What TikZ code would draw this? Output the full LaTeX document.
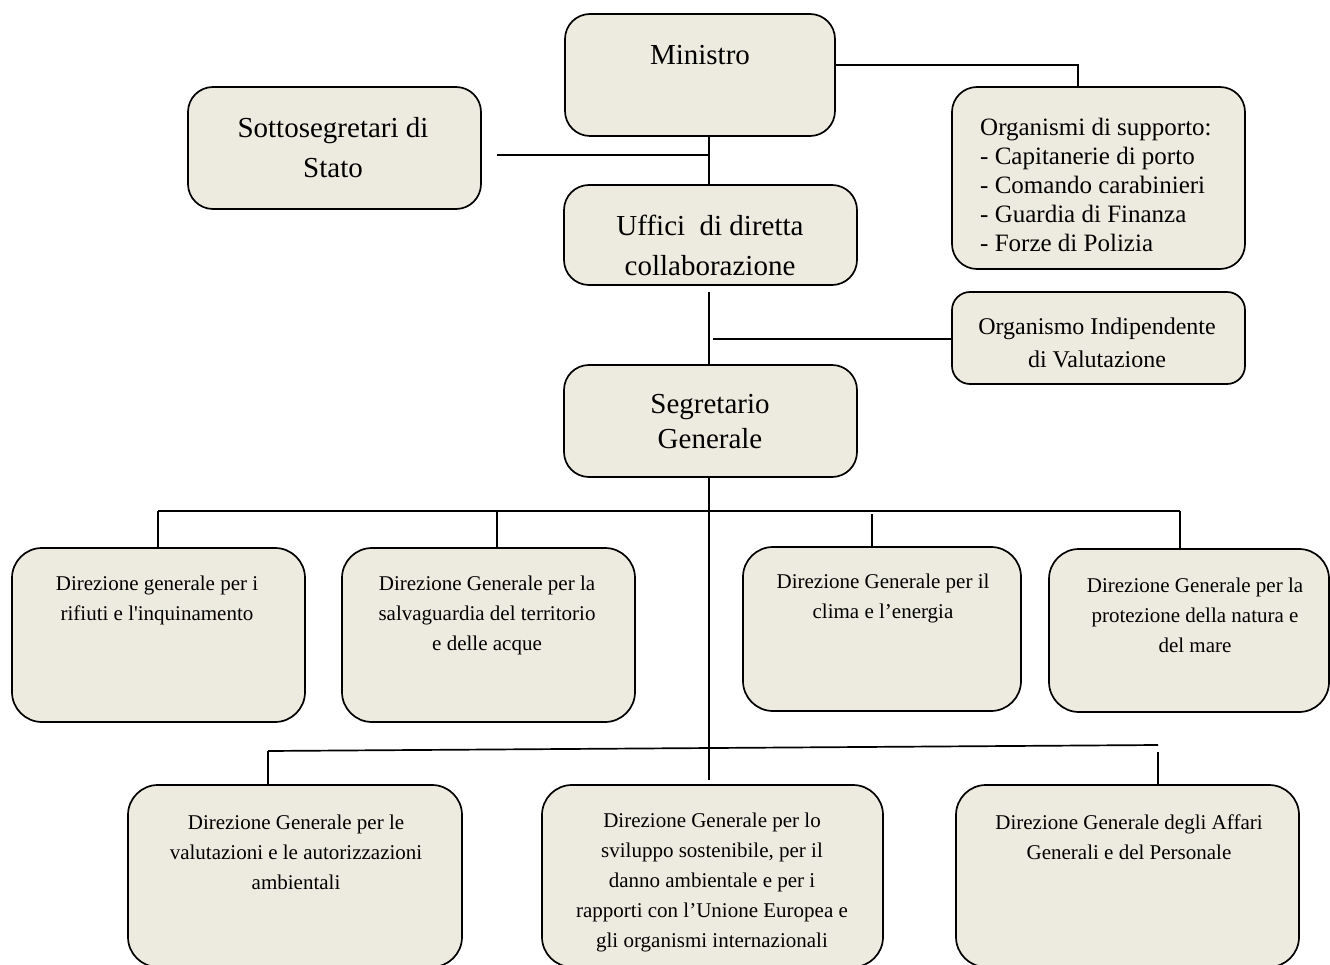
\documentclass[tikz,border=0pt]{standalone}
\usepackage{fontspec}
\setmainfont{Liberation Serif}
\definecolor{boxfill}{HTML}{EDEBE0}
\begin{document}
\begin{tikzpicture}[x=1pt,y=-1pt,
  box/.style={draw=black, line width=1.7pt, fill=boxfill, rounded corners=25pt, rectangle, inner sep=0pt},
  conn/.style={draw=black, line width=1.7pt},
  bigtxt/.style={font=\fontsize{29}{40}\selectfont, align=center, inner sep=0pt},
  medtxt/.style={font=\fontsize{25}{29}\selectfont, align=left, inner sep=0pt},
  oivtxt/.style={font=\fontsize{24}{33}\selectfont, align=center, inner sep=0pt},
  smalltxt/.style={font=\fontsize{21}{30}\selectfont, align=center, inner sep=0pt}]
\useasboundingbox (0,0) rectangle (1330,965);
\clip (0,0) rectangle (1330,965);

% boxes
\node[box, minimum width=270pt, minimum height=122pt] (min) at (700,75) {};
\node[box, minimum width=293pt, minimum height=122pt] (sot) at (334.5,148) {};
\node[box, minimum width=293pt, minimum height=100pt] (uff) at (710.5,235) {};
\node[box, minimum width=293pt, minimum height=182pt] (org) at (1098.5,178) {};
\node[box, minimum width=293pt, minimum height=92pt, rounded corners=18pt] (oiv) at (1098.5,338) {};
\node[box, minimum width=293pt, minimum height=112pt] (seg) at (710.5,421) {};
\node[box, minimum width=293pt, minimum height=174pt, rounded corners=30pt] (d1) at (158.5,635) {};
\node[box, minimum width=293pt, minimum height=174pt, rounded corners=30pt] (d2) at (488.5,635) {};
\node[box, minimum width=278pt, minimum height=164pt, rounded corners=30pt] (d3) at (882,629) {};
\node[box, minimum width=280pt, minimum height=163pt, rounded corners=30pt] (d4) at (1189,630.5) {};
\node[box, minimum width=334pt, minimum height=182pt, rounded corners=30pt] (d5) at (295,876) {};
\node[box, minimum width=341pt, minimum height=182pt, rounded corners=30pt] (d6) at (712.5,876) {};
\node[box, minimum width=343pt, minimum height=182pt, rounded corners=30pt] (d7) at (1127.5,876) {};

% texts
\node[bigtxt] (tmin) at (700,55) {Ministro};
\node[bigtxt] (tsot) at (333,148) {Sottosegretari di\\Stato};
\node[bigtxt] (tuff) at (710,245) {Uffici~~di diretta\\collaborazione};
\node[medtxt, anchor=west] (torg) at (980,185) {Organismi di supporto:\\- Capitanerie di porto\\- Comando carabinieri\\- Guardia di Finanza\\- Forze di Polizia};
\node[oivtxt] (toiv) at (1097,343) {Organismo Indipendente\\di Valutazione};
\node[bigtxt, font=\fontsize{29}{35}\selectfont] (tseg) at (710,422) {Segretario\\Generale};
\node[smalltxt] (td1) at (157,600) {Direzione generale per i\\rifiuti e l\textquotesingle inquinamento};
\node[smalltxt] (td2) at (487,615) {Direzione Generale per la\\salvaguardia del territorio\\e delle acque};
\node[smalltxt] (td3) at (883,598) {Direzione Generale per il\\clima e l’energia};
\node[smalltxt] (td4) at (1195,615) {Direzione Generale per la\\protezione della natura e\\del mare};
\node[smalltxt] (td5) at (296,852) {Direzione Generale per le\\valutazioni e le autorizzazioni\\ambientali};
\node[smalltxt] (td6) at (712,882) {Direzione Generale per lo\\sviluppo sostenibile, per il\\danno ambientale e per i\\rapporti con l’Unione Europea e\\gli organismi internazionali};
\node[smalltxt] (td7) at (1129,837) {Direzione~Generale degli Affari\\Generali e del Personale};

% junction coordinates
\coordinate (j1) at (709,155);
\coordinate (sotend) at (497,155);
\coordinate (j2) at (1078,65);
\coordinate (j3) at (709,292);
\coordinate (oivend) at (713,339);
\coordinate (segend) at (709,780);
\coordinate (b1l) at (158,511);
\coordinate (b1r) at (1180,511);
\coordinate (b1a) at (497,511);
\coordinate (b1b) at (872,514);
\coordinate (b2l) at (268,751);
\coordinate (b2r) at (1158,745);
\coordinate (b2rd) at (1158,752);

% connectors
\draw[conn] (j1 |- min.south) -- (j1 |- uff.north);
\draw[conn] (sotend) -- (j1);
\draw[conn] (min.east |- j2) -- (j2) -- (j2 |- org.north);
\draw[conn] (j3) -- (j3 |- seg.north);
\draw[conn] (oivend) -- (oiv.west |- oivend);
\draw[conn] (segend |- seg.south) -- (segend);
\draw[conn] (b1l) -- (b1r);
\draw[conn] (b1l) -- (b1l |- d1.north);
\draw[conn] (b1a) -- (b1a |- d2.north);
\draw[conn] (b1b) -- (b1b |- d3.north);
\draw[conn] (b1r) -- (b1r |- d4.north);
\draw[conn] (b2l) -- (b2r);
\draw[conn] (b2l) -- (b2l |- d5.north);
\draw[conn] (b2rd) -- (b2rd |- d7.north);
\end{tikzpicture}
\end{document}
